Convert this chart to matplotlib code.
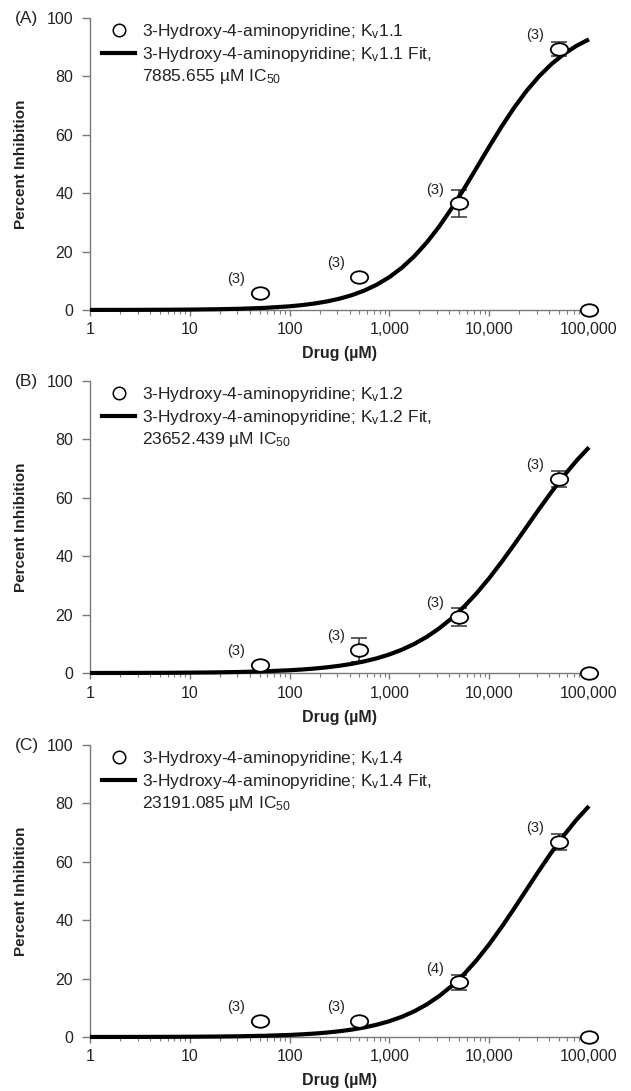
import numpy as np
import matplotlib
matplotlib.use("Agg")
import matplotlib.pyplot as plt
from matplotlib.path import Path
from matplotlib.lines import Line2D

plt.rcParams['font.family'] = ['Liberation Sans', 'DejaVu Sans']
plt.rcParams['mathtext.fontset'] = 'custom'
plt.rcParams['mathtext.rm'] = 'Liberation Sans'
plt.rcParams['mathtext.it'] = 'Liberation Sans:italic'

# data
conc = [50, 500, 5000, 50000, 100000]
panel_tags = ['(A)', '(B)', '(C)']
channels = ['1.1', '1.2', '1.4']
ic50_text = ['7885.655', '23652.439', '23191.085']

inhib_A = [5.8, 11.3, 36.5, 89.4, 0]
inhib_B = [2.7, 7.9, 19.2, 66.4, 0]
inhib_C = [5.6, 5.6, 18.7, 66.9, 0]
err_A = [0, 0, 4.7, 2.5, 0]
err_B = [0, 4.0, 3.0, 2.7, 0]
err_C = [0, 0, 2.5, 2.8, 0]
n_A = ['(3)', '(3)', '(3)', '(3)', '']
n_B = ['(3)', '(3)', '(3)', '(3)', '']
n_C = ['(3)', '(3)', '(4)', '(3)', '']

# fitted curves
fit_x = [1, 1.78, 3.16, 5.62, 10, 17.8, 31.6, 56.2,
         100, 133, 178, 237, 316, 422, 562, 750,
         1000, 1334, 1778, 2371, 3162, 4217, 5623, 7499,
         10000, 13335, 17783, 23714, 31623, 42170, 56234, 74989, 100000]
fit_A = [0.01, 0.02, 0.04, 0.07, 0.13, 0.23, 0.40, 0.71,
         1.25, 1.66, 2.21, 2.92, 3.86, 5.08, 6.66, 8.68,
         11.25, 14.46, 18.40, 23.12, 28.62, 34.84, 41.62, 48.74,
         55.91, 62.84, 69.28, 75.05, 80.04, 84.25, 87.70, 90.48, 92.69]
fit_B = [0.02, 0.03, 0.05, 0.08, 0.14, 0.22, 0.36, 0.59,
         0.95, 1.21, 1.54, 1.96, 2.49, 3.16, 4.00, 5.05,
         6.37, 7.99, 9.98, 12.40, 15.31, 18.76, 22.78, 27.37,
         32.49, 38.07, 43.98, 50.06, 56.15, 62.05, 67.62, 72.73, 77.30]
fit_C = [0.01, 0.02, 0.03, 0.05, 0.09, 0.15, 0.25, 0.42,
         0.70, 0.91, 1.18, 1.52, 1.97, 2.54, 3.28, 4.22,
         5.41, 6.92, 8.81, 11.16, 14.03, 17.49, 21.60, 26.36,
         31.75, 37.68, 43.99, 50.51, 57.01, 63.28, 69.13, 74.43, 79.08]

inhib = [inhib_A, inhib_B, inhib_C]
errs = [err_A, err_B, err_C]
counts = [n_A, n_B, n_C]
fits = [fit_A, fit_B, fit_C]

circ = Path.unit_circle()
ellipse = Path(circ.vertices * np.array([1.0, 0.72]), circ.codes)

fig = plt.figure(figsize=(6.31, 10.91), dpi=100)
bottoms = [0.7159, 0.3831, 0.0495]
axis_grey = '#7a7a7a'
txt = '#222222'

for i in range(3):
    ax = fig.add_axes([0.1426, bottoms[i], 0.7908, 0.2676])
    x = np.array(conc)
    y = np.array(inhib[i])
    e = np.array(errs[i])

    ax.plot(fit_x, fits[i], color='black', lw=3, solid_capstyle='butt',
            solid_joinstyle='round', zorder=3, clip_on=False)
    m = e > 0
    ax.errorbar(x[m], y[m], yerr=e[m], fmt='none', ecolor='#333333',
                elinewidth=1.1, capsize=6, capthick=1.1, zorder=2)
    ax.plot(x, y, linestyle='none', marker=ellipse, markersize=12.5,
            markerfacecolor='white', markeredgecolor='black',
            markeredgewidth=1.3, zorder=4, clip_on=False)
    for xi, yi, lab in zip(conc, inhib[i], counts[i]):
        if lab:
            ax.annotate(lab, xy=(xi, yi), xytext=(-17, 10),
                        textcoords='offset points', ha='center', va='center',
                        fontsize=10.5, color=txt)

    ax.set_xscale('log')
    ax.set_xlim(1, 1e5)
    ax.set_ylim(0, 100)
    ax.set_xticks([1, 10, 100, 1000, 10000, 100000])
    ax.set_xticklabels(['1', '10', '100', '1,000', '10,000', '100,000'])
    ax.set_yticks([0, 20, 40, 60, 80, 100])
    ax.set_yticklabels(['0', '20', '40', '60', '80', '100'])

    for s in ['top', 'right']:
        ax.spines[s].set_visible(False)
    for s in ['left', 'bottom']:
        ax.spines[s].set_color(axis_grey)
        ax.spines[s].set_linewidth(1)
    ax.tick_params(axis='y', length=6, width=1, color=axis_grey, pad=6,
                   labelsize=11.5, labelcolor=txt)
    ax.tick_params(axis='x', which='major', length=4, width=1,
                   color=axis_grey, pad=5, labelsize=11.5, labelcolor=txt)
    ax.tick_params(axis='x', which='minor', length=3, width=0.8,
                   color=axis_grey)

    ax.set_ylabel('Percent Inhibition', fontsize=11, fontweight='bold',
                  color=txt)
    ax.yaxis.set_label_coords(-0.124, 0.5)
    ax.set_xlabel('Drug (µM)', fontsize=11.5, fontweight='bold', color=txt)
    ax.xaxis.set_label_coords(0.5, -0.125)

    ax.text(-0.150, 1.0, panel_tags[i], transform=ax.transAxes,
            ha='left', va='center', fontsize=12.5, color=txt)

    ch = channels[i]
    handles = [
        Line2D([], [], linestyle='none', marker='o', markersize=9,
               markerfacecolor='white', markeredgecolor='black',
               markeredgewidth=1.1),
        Line2D([], [], color='black', lw=3),
        Line2D([], [], linestyle='none'),
    ]
    labels = [
        '3-Hydroxy-4-aminopyridine; K$_\\mathregular{v}$' + ch,
        '3-Hydroxy-4-aminopyridine; K$_\\mathregular{v}$' + ch + ' Fit,',
        ic50_text[i] + ' µM IC$_\\mathregular{50}$',
    ]
    ax.legend(handles, labels, loc='upper left', bbox_to_anchor=(0.025, 0.985),
              frameon=False, fontsize=12.5, handlelength=1.9,
              handletextpad=0.35, labelspacing=0.2, borderpad=0,
              borderaxespad=0, labelcolor=txt)

fig.savefig('out.png', dpi=100)
